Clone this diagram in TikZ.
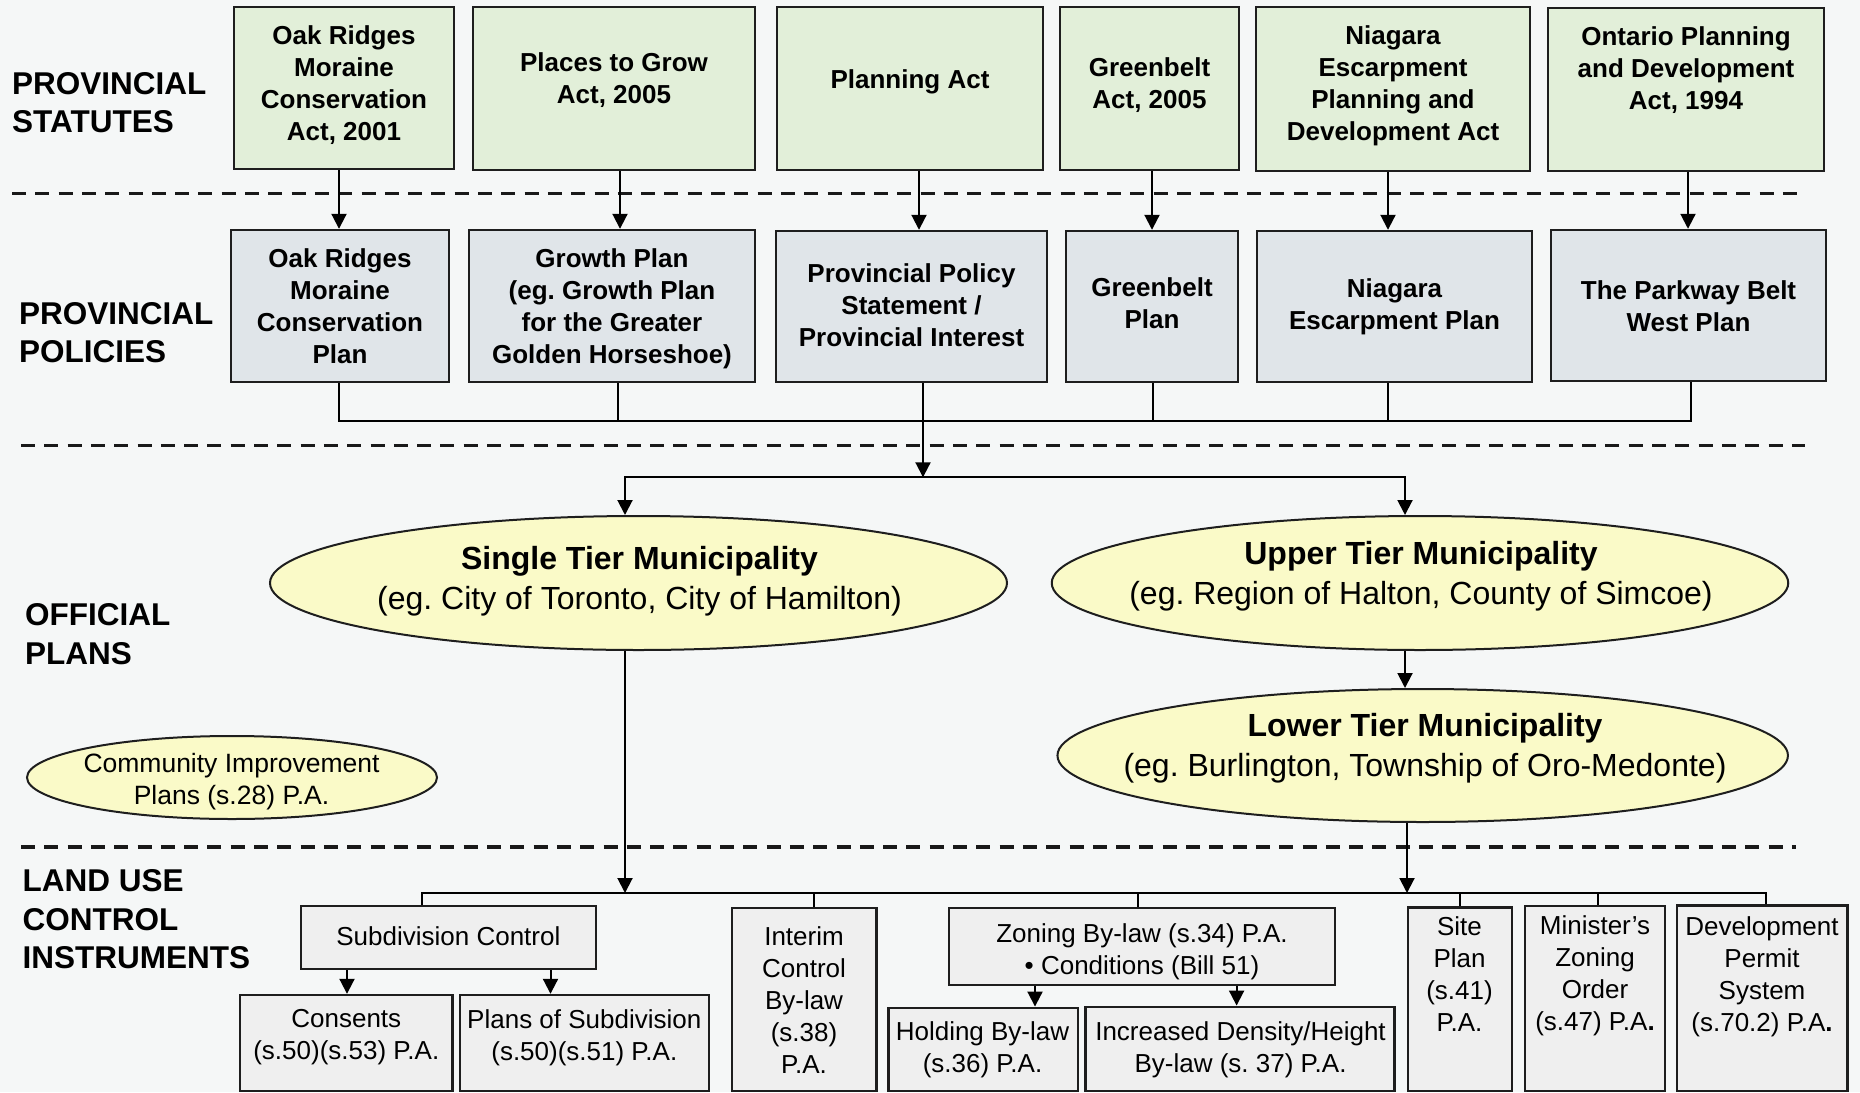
\documentclass[tikz,border=0pt]{standalone}
\usepackage{fontspec}
\setmainfont{Liberation Sans}
\usetikzlibrary{arrows.meta,shapes.geometric}
\definecolor{bgc}{RGB}{245,247,247}
\definecolor{statc}{RGB}{226,239,217}
\definecolor{polc}{RGB}{224,229,233}
\definecolor{ellc}{RGB}{250,250,200}
\definecolor{landc}{RGB}{239,239,239}
\definecolor{edgec}{RGB}{30,30,30}
\newcommand{\fsBox}{\fontsize{26}{32}\selectfont\frenchspacing}
\newcommand{\fsHead}{\fontsize{31.5}{38.3}\selectfont\bfseries}
\newcommand{\fsEll}{\fontsize{32}{40}\selectfont\frenchspacing}
\newcommand{\fsCom}{\fontsize{26.5}{32}\selectfont\frenchspacing}
\tikzset{
  lab/.style={anchor=west, align=left, inner sep=0pt, font=\fsHead},
  stat/.style={draw=edgec, line width=2.6pt, fill=statc, inner sep=0pt},
  stxt/.style={align=center, inner sep=0pt, font=\fsBox\bfseries},
  pol/.style={draw=edgec, line width=2.4pt, fill=polc, inner sep=0pt},
  ptxt/.style={align=center, inner sep=0pt, font=\fsBox\bfseries},
  ell/.style={ellipse, draw=edgec, line width=2pt, fill=ellc, inner sep=0pt},
  etxt/.style={align=center, inner sep=0pt, font=\fsEll},
  land/.style={draw=edgec, line width=2.4pt, fill=landc, inner sep=0pt, align=center, font=\fsBox},
  ltxt/.style={align=center, inner sep=0pt, anchor=north, font=\fsBox},
  ctxt/.style={align=center, inner sep=0pt, font=\fsBox},
  conn/.style={line width=2pt, draw=black},
  arr/.style={conn, -{Triangle[length=15pt,width=15pt]}},
  sepline/.style={line width=3.2pt, draw=black!90, dash pattern=on 14pt off 9.3pt}
}
\begin{document}
\begin{tikzpicture}[x=1pt,y=-1pt]
\useasboundingbox (0,0) rectangle (1860,1092);
\fill[bgc] (0,0) rectangle (1860,1092);

% separators
\coordinate (d1a) at (12,193.3);  \coordinate (d1b) at (1797,193.3);
\coordinate (d2a) at (21,445.7);  \coordinate (d2b) at (1805,445.7);
\coordinate (d3a) at (21,847);    \coordinate (d3b) at (1796,847);
\draw[sepline] (d1a) -- (d1b);
\draw[sepline] (d2a) -- (d2b);
\draw[sepline] (d3a) -- (d3b);

% left headings
\node[lab] (hd1) at (12,102.5) {PROVINCIAL\\STATUTES};
\node[lab] (hd2) at (19,332.5) {PROVINCIAL\\POLICIES};
\node[lab] (hd3) at (25,634) {OFFICIAL\\PLANS};
\node[lab] (hd4) at (22.5,919.3) {LAND USE\\CONTROL\\INSTRUMENTS};

% statutes
\node[stat, minimum width=220pt, minimum height=162pt] (s1) at (344,88) {};
\node[stat, minimum width=282pt, minimum height=163pt] (s2) at (614,88.5) {};
\node[stat, minimum width=266pt, minimum height=163pt] (s3) at (910,88.5) {};
\node[stat, minimum width=179pt, minimum height=163pt] (s4) at (1149.5,88.5) {};
\node[stat, minimum width=274pt, minimum height=164pt] (s5) at (1393,89) {};
\node[stat, minimum width=276pt, minimum height=163pt] (s6) at (1686,89.5) {};
\node[stxt] (s1t) at (344,85) {Oak Ridges\\Moraine\\Conservation\\Act, 2001};
\node[stxt] (s2t) at (614,80) {Places to Grow\\Act, 2005};
\node[stxt] (s3t) at (910,82) {Planning Act};
\node[stxt] (s4t) at (1149.5,85.5) {Greenbelt\\Act, 2005};
\node[stxt] (s5t) at (1393,86) {Niagara\\Escarpment\\Planning and\\Development Act};
\node[stxt] (s6t) at (1686,70) {Ontario Planning\\and Development\\Act, 1994};

% policies
\node[pol, minimum width=218pt, minimum height=152pt] (p1) at (340,306) {};
\node[pol, minimum width=286pt, minimum height=152pt] (p2) at (612,306) {};
\node[pol, minimum width=271pt, minimum height=151pt] (p3) at (911.5,306.5) {};
\node[pol, minimum width=172pt, minimum height=151pt] (p4) at (1152,306.5) {};
\node[pol, minimum width=275pt, minimum height=151pt] (p5) at (1394.5,306.5) {};
\node[pol, minimum width=275pt, minimum height=151pt] (p6) at (1688.5,305.5) {};
\node[ptxt] (p1t) at (340,306) {Oak Ridges\\Moraine\\Conservation\\Plan};
\node[ptxt] (p2t) at (612,309) {Growth Plan\\(eg. Growth Plan\\for the Greater\\Golden Horseshoe)};
\node[ptxt] (p3t) at (911.5,305) {Provincial Policy\\Statement /\\Provincial Interest};
\node[ptxt] (p4t) at (1152,303) {Greenbelt\\Plan};
\node[ptxt] (p5t) at (1394.5,307) {Niagara\\Escarpment Plan};
\node[ptxt] (p6t) at (1688.5,306) {The Parkway Belt\\West Plan};

% official plans
\node[ell, minimum width=737pt, minimum height=134pt] (st) at (638.5,583) {};
\node[ell, minimum width=736.5pt, minimum height=134pt] (ut) at (1420,583) {};
\node[ell, minimum width=730.5pt, minimum height=133pt] (lt) at (1422.7,755.5) {};
\node[ell, minimum width=410pt, minimum height=83pt] (ci) at (232,777.5) {};
\node[etxt] (stt) at (639.5,581.5) {\textbf{Single Tier Municipality}\\(eg. City of Toronto, City of Hamilton)};
\node[etxt] (utt) at (1421,576.5) {\textbf{Upper Tier Municipality}\\(eg. Region of Halton, County of Simcoe)};
\node[etxt] (ltt) at (1425,748.5) {\textbf{Lower Tier Municipality}\\(eg. Burlington, Township of Oro-Medonte)};
\node[etxt, font=\fsCom] (cit) at (231.5,782) {Community Improvement\\Plans (s.28) P.A.};

% land use control instruments
\node[land, minimum width=295pt, minimum height=63pt] (sc) at (448.4,937.7) {};
\node[ctxt] (sct) at (448.4,936) {Subdivision Control};
\node[land, minimum width=212.5pt, minimum height=96pt] (cs) at (346.3,1043) {};
\node[land, minimum width=249pt, minimum height=96pt] (ps) at (584.3,1043) {};
\node[land, minimum width=144.6pt, minimum height=183pt] (ic) at (804.3,999.5) {};
\node[land, minimum width=386pt, minimum height=77pt] (zb) at (1142,946.5) {};
\node[ctxt] (zbt) at (1142,952) {Zoning By-law (s.34) P.A.\\• Conditions (Bill 51)};
\node[land, minimum width=189.5pt, minimum height=83.3pt] (hb) at (983.3,1049.4) {};
\node[land, minimum width=309pt, minimum height=84.3pt] (id) at (1239.9,1048.9) {};
\node[land, minimum width=104pt, minimum height=183.7pt] (sp) at (1459.7,999.2) {};
\node[land, minimum width=140pt, minimum height=185pt] (mz) at (1595,998.5) {};
\node[land, minimum width=170.6pt, minimum height=185.7pt] (dp) at (1762,998.2) {};
\node[ltxt] (cst) at (346.3,1009) {Consents\\(s.50)(s.53) P.A.};
\node[ltxt] (pst) at (584.3,1009) {Plans of Subdivision\\(s.50)(s.51) P.A.};
\node[ltxt] (ict) at (804,926) {Interim\\Control\\By-law\\(s.38)\\P.A.};
\node[ltxt] (hbt) at (982.5,1021) {Holding By-law\\(s.36) P.A.};
\node[ltxt] (idt) at (1240.5,1021) {Increased Density/Height\\By-law (s. 37) P.A.};
\node[ltxt] (spt) at (1459.5,916.7) {Site\\Plan\\(s.41)\\P.A.};
\node[ltxt] (mzt) at (1595,915) {Minister’s\\Zoning\\Order\\(s.47) P.A\textbf{.}};
\node[ltxt] (dpt) at (1762,916) {Development\\Permit\\System\\(s.70.2) P.A\textbf{.}};

% connector positions
\coordinate (ax1) at (339,0);  \coordinate (ax2) at (620,0);  \coordinate (ax3) at (919,0);
\coordinate (ax4) at (1152,0); \coordinate (ax5) at (1388,0); \coordinate (ax6) at (1688,0);
\coordinate (bx1) at (339,0);  \coordinate (bx2) at (618,0);  \coordinate (bx3) at (923,0);
\coordinate (bx4) at (1153,0); \coordinate (bx5) at (1388,0); \coordinate (bx6) at (1691,0);
\coordinate (pbus) at (0,420.7);
\coordinate (split) at (923,477.3);
\coordinate (sx) at (625,0); \coordinate (ux) at (1405,0); \coordinate (lx) at (1407,0);
\coordinate (lbus) at (0,893);
\coordinate (lv1) at (422,0);  \coordinate (lv2) at (814,0);  \coordinate (lv3) at (1137.6,0);
\coordinate (lv4) at (1460,0); \coordinate (lv5) at (1598.3,0); \coordinate (lv6) at (1766,0);
\coordinate (cx1) at (347,0); \coordinate (cx2) at (550.5,0);
\coordinate (zx1) at (1035,0); \coordinate (zx2) at (1236.6,0);

% statutes -> policies
\draw[arr] (ax1 |- s1.south) -- (ax1 |- p1.north);
\draw[arr] (ax2 |- s2.south) -- (ax2 |- p2.north);
\draw[arr] (ax3 |- s3.south) -- (ax3 |- p3.north);
\draw[arr] (ax4 |- s4.south) -- (ax4 |- p4.north);
\draw[arr] (ax5 |- s5.south) -- (ax5 |- p5.north);
\draw[arr] (ax6 |- s6.south) -- (ax6 |- p6.north);

% policies bus
\draw[conn] (bx1 |- p1.south) -- (bx1 |- pbus) -- (bx6 |- pbus) -- (bx6 |- p6.south);
\draw[conn] (bx2 |- p2.south) -- (bx2 |- pbus);
\draw[conn] (bx4 |- p4.south) -- (bx4 |- pbus);
\draw[conn] (bx5 |- p5.south) -- (bx5 |- pbus);
\draw[arr] (bx3 |- p3.south) -- (split);
\draw[arr] (split) -| (sx |- st.north);
\draw[arr] (split) -| (ux |- ut.north);
\draw[arr] (ux |- ut.south) -- (ux |- lt.north);

% to land use bus
\draw[arr] (sx |- st.south) -- (sx |- lbus);
\draw[arr] (lx |- lt.south) -- (lx |- lbus);
\draw[conn] (lv1 |- sc.north) -- (lv1 |- lbus) -- (lv6 |- lbus) -- (lv6 |- dp.north);
\draw[conn] (lv2 |- lbus) -- (lv2 |- ic.north);
\draw[conn] (lv3 |- lbus) -- (lv3 |- zb.north);
\draw[conn] (lv4 |- lbus) -- (lv4 |- sp.north);
\draw[conn] (lv5 |- lbus) -- (lv5 |- mz.north);
\draw[arr] (cx1 |- sc.south) -- (cx1 |- cs.north);
\draw[arr] (cx2 |- sc.south) -- (cx2 |- ps.north);
\draw[arr] (zx1 |- zb.south) -- (zx1 |- hb.north);
\draw[arr] (zx2 |- zb.south) -- (zx2 |- id.north);
\end{tikzpicture}
\end{document}
